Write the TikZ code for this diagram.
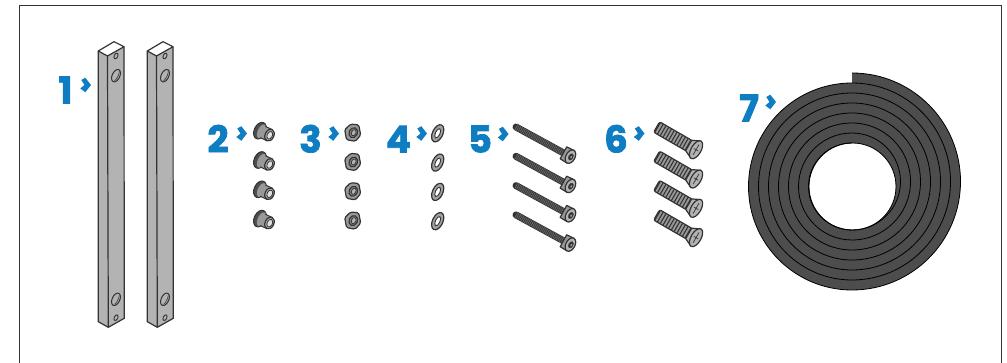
\documentclass[tikz,border=0pt]{standalone}
\usepackage{fontspec}
\setmainfont{Poppins}[BoldFeatures={FakeBold=2}]
\definecolor{numblue}{HTML}{0F7DC2}
\definecolor{partdark}{HTML}{333333}
\definecolor{rubber}{HTML}{4D4D4D}
\definecolor{steel}{HTML}{B3B3B3}
\definecolor{midgray}{HTML}{999999}
\tikzset{
  framestroke/.style={draw=partdark,line width=1.2pt},
  numlabel/.style={font=\fontsize{37}{37}\selectfont\bfseries,text=numblue,inner sep=0pt,anchor=base},
  outl/.style={draw=partdark,line width=1.2pt,line join=round},
  chevmark/.pic={\fill[numblue] (0,0)--(-5.7,-7.3)--(-9.7,-5)--(-6.5,0)--(-10.7,3.5)--(-5.7,7.3)--cycle;},
  railbar/.pic={
    \fill[steel] (98.3,51)--(107.5,56)--(124,46.7)--(124.3,318.3)--(108.3,327.3)--(98.3,321.7)--cycle;
    \filldraw[fill=white,outl] (98.3,51)--(114,41.7)--(124,46.7)--(107.5,56)--cycle;
    \draw[outl] (98.3,51)--(98.3,321.7)--(108.3,327.3)--(124.3,318.3)--(124,46.7);
    \draw[outl] (107.5,56)--(108.3,327.3);
    \foreach \py in {75.7,299.3}{
      \begin{scope}[shift={(116,\py)},rotate=-25]
        \draw[draw=partdark,line width=1pt] (0,0) ellipse (3.8pt and 6.6pt);
        \draw[draw=partdark,line width=.6pt] (.8,-5.5) arc[start angle=60,end angle=-60,x radius=2.6pt,y radius=6.2pt];
      \end{scope}}
    \foreach \py in {56,317.7}{
      \draw[draw=partdark,line width=.9pt,shift={(116,\py)},rotate=-25] (0,0) ellipse (1.8pt and 3pt);}
  },
  bushing/.pic={
    \begin{scope}[rotate=-25]
      \filldraw[fill=rubber,draw=partdark,line width=1pt] (0,0) ellipse (5.8pt and 8.8pt);
      \fill[midgray] (1.8,0) ellipse (3.9pt and 7.4pt);
      \fill[midgray] (2,-6) rectangle (10.5,6);
      \draw[partdark,line width=1pt] (3,-6.2)--(10.5,-6.2) (3,6.2)--(10.5,6.2);
      \filldraw[fill=steel,outl] (10.5,0) ellipse (4.4pt and 6.2pt);
      \filldraw[fill=white!70!midgray,draw=partdark,line width=.8pt] (10.8,0) ellipse (2.7pt and 4pt);
    \end{scope}
  },
  hexnut/.pic={
    \filldraw[fill=midgray,draw=partdark,line width=1.2pt,line join=round,rounded corners=1.5pt]
      (-8,-3)--(-2,-8.6)--(6,-7.8)--(8,2.4)--(2.6,8.6)--(-6.2,7)--cycle;
    \filldraw[fill=gray,draw=partdark,line width=1.1pt,shift={(.6,0)},rotate=-25] (0,0) ellipse (4.2pt and 5.2pt);
    \filldraw[fill=steel,draw=partdark,line width=.7pt,shift={(1,0)},rotate=-25] (0,0) ellipse (2.2pt and 3.2pt);
  },
  washerpart/.pic={
    \begin{scope}[rotate=-25]
      \filldraw[fill=steel!90!black,outl] (0,0) ellipse (5.2pt and 9.2pt);
      \filldraw[fill=white,draw=partdark,line width=.9pt] (0,0) ellipse (2.3pt and 5pt);
    \end{scope}
  },
  capscrew/.pic={
    \begin{scope}[rotate=-28.6]
      \draw[partdark,line width=7pt,line cap=round] (0,0)--(54,0);
      \draw[black!60,line width=5.8pt,dash pattern=on .8pt off 1pt] (0,0)--(54,0);
      \filldraw[fill=midgray,outl] (54,-6.8)--(62,-7.2)--(62,7.2)--(54,6.8)--cycle;
      \filldraw[fill=steel,outl] (62,0) ellipse (4.6pt and 7.2pt);
      \filldraw[fill=partdark,draw=partdark,line width=.4pt] (62.5,0) ellipse (2.2pt and 3.4pt);
      \fill[midgray] (63,0) ellipse (1pt and 1.6pt);
    \end{scope}
  },
  flatscrew/.pic={
    \begin{scope}[rotate=-30]
      \filldraw[fill=midgray,draw=partdark,line width=1.2pt,rounded corners=2pt] (-1,-6)--(37,-6)--(37,6)--(-1,6)--cycle;
      \draw[partdark,line width=11.4pt,dash pattern=on 1.1pt off 2.1pt] (-.5,0)--(36,0);
      \filldraw[fill=steel,outl] (36,-6)--(44,-9.8)--(44,9.8)--(36,6)--cycle;
      \filldraw[fill=steel,outl] (44.5,0) ellipse (5pt and 10pt);
      \draw[partdark,line width=.7pt] (44.5,-6)--(44.5,6) (42,0)--(47,0);
    \end{scope}
  }
}
\begin{document}
\begin{tikzpicture}[x=1pt,y=-1pt]
\useasboundingbox (0,0) rectangle (1007,363);
\draw[framestroke] (19.5,363)--(19.5,5.5)--(1001.7,5.5)--(1001.7,363);
% numbers
\node[numlabel] (n1) at (65.5,103.5) {1};
\node[numlabel] (n2) at (218,152.5) {2};
\node[numlabel] (n3) at (310.5,152.5) {3};
\node[numlabel] (n4) at (398.5,152.5) {4};
\node[numlabel] (n5) at (480,152.5) {5};
\node[numlabel] (n6) at (616,152.5) {6};
\node[numlabel] (n7) at (749,121.5) {7};
\pic at (91,85) {chevmark};
\pic at (247,133.5) {chevmark};
\pic at (339,133.5) {chevmark};
\pic at (427,133.5) {chevmark};
\pic at (508.5,134) {chevmark};
\pic at (644.5,133.5) {chevmark};
\pic at (776,102) {chevmark};
% rails
\pic at (0,0) {railbar};
\pic at (49,0) {railbar};
% small parts
\foreach \k in {0,1,2,3}{
  \pic at (260,130.7+29.3*\k) {bushing};
  \pic at (352.7,132.7+29.3*\k) {hexnut};
  \pic at (437.7,133.3+29.3*\k) {washerpart};
  \pic at (516,127+29.3*\k) {capscrew};
  \pic at (657.5,127.5+29.3*\k) {flatscrew};
}
% rubber coil
\fill[rubber,even odd rule]
  (852,73) arc[start angle=90,end angle=-90,radius=108.5pt]
  arc[start angle=270,end angle=90,radius=103.5pt] -- cycle
  (852.5,186.5) circle (43.5pt);
\draw[black,line width=.8pt]
  (852,83) \foreach \k in {0,...,5}{
    arc[start angle=90,end angle=-90,radius={98.5pt-10pt*\k}]
    arc[start angle=270,end angle=90,radius={93.5pt-10pt*\k}]};
\draw[black,line width=.8pt] (852,73) arc[start angle=90,end angle=-90,radius=108.5pt]
  arc[start angle=270,end angle=90,radius=103.5pt];
\draw[black,line width=.8pt] (852.5,186.5) circle (43.5pt);
\end{tikzpicture}
\end{document}
